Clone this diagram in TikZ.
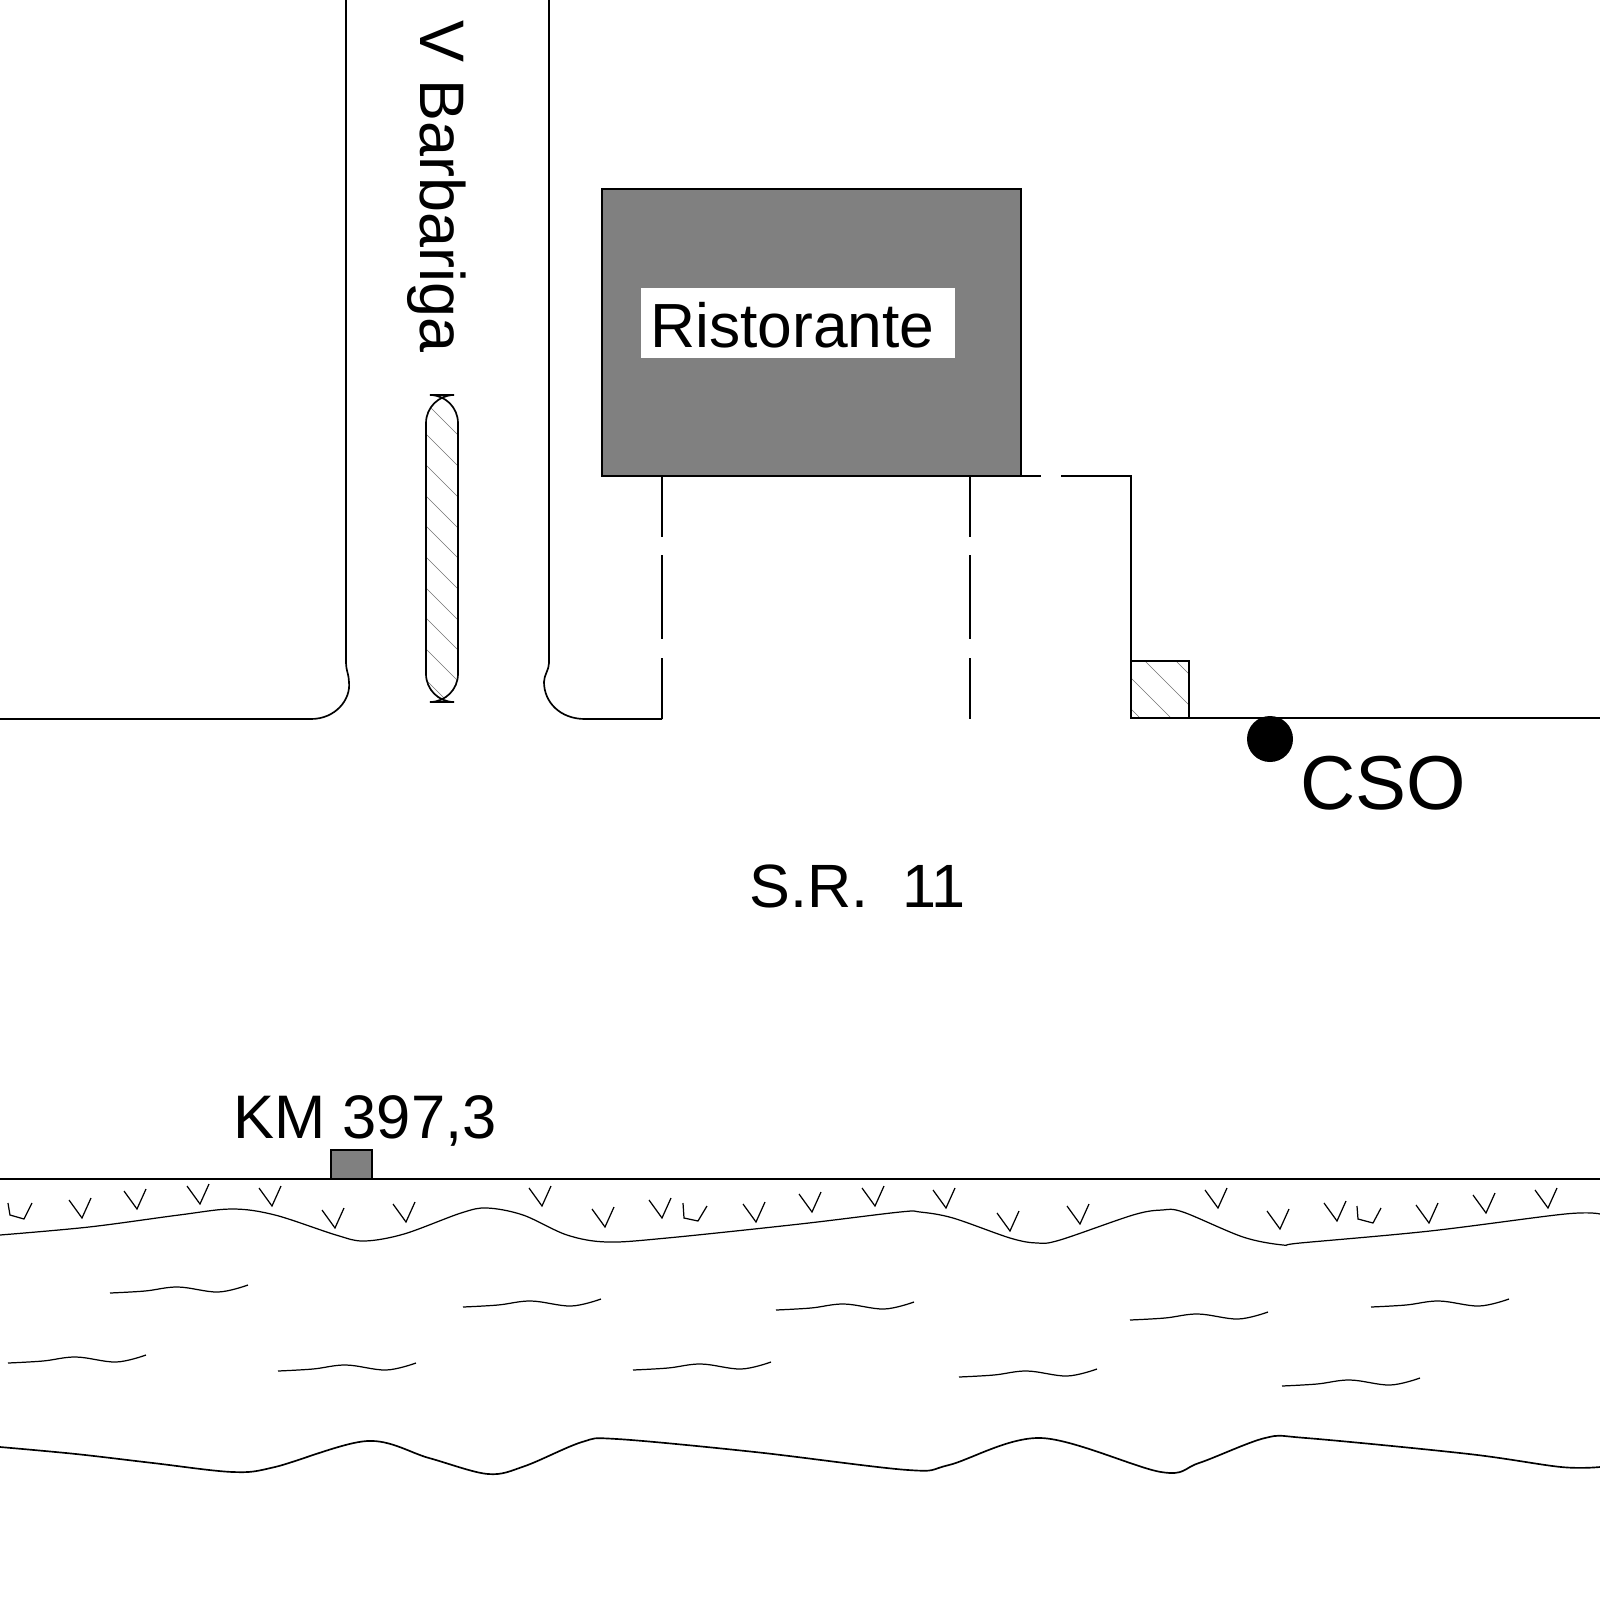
\documentclass[tikz,border=0pt]{standalone}
\definecolor{BuildingGray}{RGB}{128,128,128}
\usepackage{fontspec}
\setmainfont{Liberation Sans}
\usepackage{tikz}
\usetikzlibrary{positioning}
\tikzstyle{roadline} = [line width=0.95pt, black]
\tikzstyle{thinline} = [line width=0.7pt, black]
\tikzstyle{hatchline} = [line width=0.3pt, black!55]
\tikzstyle{maptext} = [inner sep=0pt, anchor=base west, text=black]

\begin{document}
\begin{tikzpicture}[x=0.02cm, y=-0.02cm]
    \useasboundingbox (0,0) rectangle (1600,1600);

    % side road
    \draw[roadline] (346,0) -- (346,663) .. controls (346,670) and (349,675) .. (349,682) .. controls (351,700) and (335,719) .. (311,719) -- (0,719);
    \draw[roadline] (549,0) -- (549,663) .. controls (549,670) and (544,675) .. (544,682) .. controls (544,702) and (560,719) .. (585,719) -- (662,719);
    \node[maptext, rotate=-90, font=\fontsize{35.8}{40}\selectfont] (barbariga) at (420,20) {V Barbariga};

    % traffic island
    \begin{scope}
        \clip[rounded corners=16] (426,395) rectangle (458,702);
        \foreach \c in {-23,8,39,70,100,131,162,192,223,254} {
            \draw[hatchline] (426,426+\c) -- (458,458+\c);
        }
    \end{scope}
    \draw[roadline, rounded corners=16] (426,395) rectangle (458,702);

    % restaurant
    \filldraw[fill=BuildingGray, draw=black, line width=0.95pt] (602,189) rectangle (1021,476);
    \fill[white] (641,288) rectangle (955,358);
    \node[maptext, font=\fontsize{35.5}{40}\selectfont] (ristorante) at (650,347) {Ristorante};

    % plot boundary
    \foreach \x in {662,970} {
        \draw[roadline] (\x,476) -- (\x,537);
        \draw[roadline] (\x,555) -- (\x,639);
        \draw[roadline] (\x,658) -- (\x,719);
    }
    \draw[roadline] (1021,476) -- (1041,476);
    \draw[roadline] (1061,476) -- (1131,476) -- (1131,718) -- (1600,718);

    % hatched box and CSO
    \begin{scope}
        \clip (1131,661) rectangle (1189,718);
        \foreach \c in {-515,-484,-453,-422} {
            \draw[hatchline] (1131,1131+\c) -- (1189,1189+\c);
        }
    \end{scope}
    \draw[roadline] (1131,661) rectangle (1189,718);
    \fill[black] (1270,739) circle (23);
    \node[maptext, font=\fontsize{43.5}{48}\selectfont] (cso) at (1300,809) {CSO};

    \node[maptext, font=\fontsize{34.8}{40}\selectfont] (statale) at (749,907) {S.R.\ \ 11};
    \node[maptext, font=\fontsize{35}{40}\selectfont] (km) at (233,1138) {KM 397,3};

    % bank of the river
    \filldraw[fill=BuildingGray, draw=black, line width=0.95pt] (331,1150) rectangle (372,1179);
    \draw[roadline] (0,1179) -- (1600,1179);

    \foreach \vx/\vy in {82/1218, 137/1209, 200/1204, 272/1206, 335/1228, 406/1222, 542/1206, 605/1227, 662/1218, 756/1222, 812/1212, 875/1206, 946/1208, 1010/1231, 1080/1224, 1218/1208, 1280/1229, 1337/1221, 1429/1223, 1486/1213, 1548/1208} {
        \draw[thinline] (\vx-13,\vy-18) -- (\vx,\vy) -- (\vx+9,\vy-20);
    }
    \draw[thinline] (8,1203) -- (10,1215) -- (24,1219) -- (32,1203);
    \draw[thinline] (683,1203) -- (684,1218) -- (698,1221) -- (707,1206);
    \draw[thinline] (1357,1206) -- (1358,1219) -- (1373,1223) -- (1381,1208);

    \draw[thinline] plot[smooth, tension=0.55] coordinates {(0,1235) (89,1227) (179,1215) (232,1209) (275,1215) (336,1235) (364,1241) (404,1234) (461,1213) (487,1208) (523,1215) (567,1235) (607,1242) (667,1238) (800,1224) (900,1212) (920,1212) (953,1218) (1010,1238) (1037,1243) (1060,1240) (1133,1215) (1162,1210) (1183,1212) (1243,1237) (1283,1245) (1300,1243) (1430,1231) (1565,1214) (1600,1214)};

    % water
    \foreach \wx/\wy in {110/1293, 463/1307, 776/1310, 1130/1320, 1371/1307, 8/1363, 278/1371, 633/1370, 959/1377, 1282/1386} {
        \draw[thinline] plot[smooth, tension=0.6] coordinates {(\wx,\wy) (\wx+35,\wy-2) (\wx+68,\wy-6) (\wx+108,\wy-1) (\wx+138,\wy-8)};
    }

    \draw[roadline] plot[smooth, tension=0.55] coordinates {(0,1447) (76,1454) (153,1463) (233,1472) (275,1467) (367,1441) (429,1458) (488,1474) (525,1466) (582,1442) (617,1439) (755,1452) (908,1470) (949,1465) (1041,1438) (1161,1472) (1199,1463) (1265,1438) (1306,1438) (1469,1454) (1561,1467) (1600,1467)};
\end{tikzpicture}
\end{document}
